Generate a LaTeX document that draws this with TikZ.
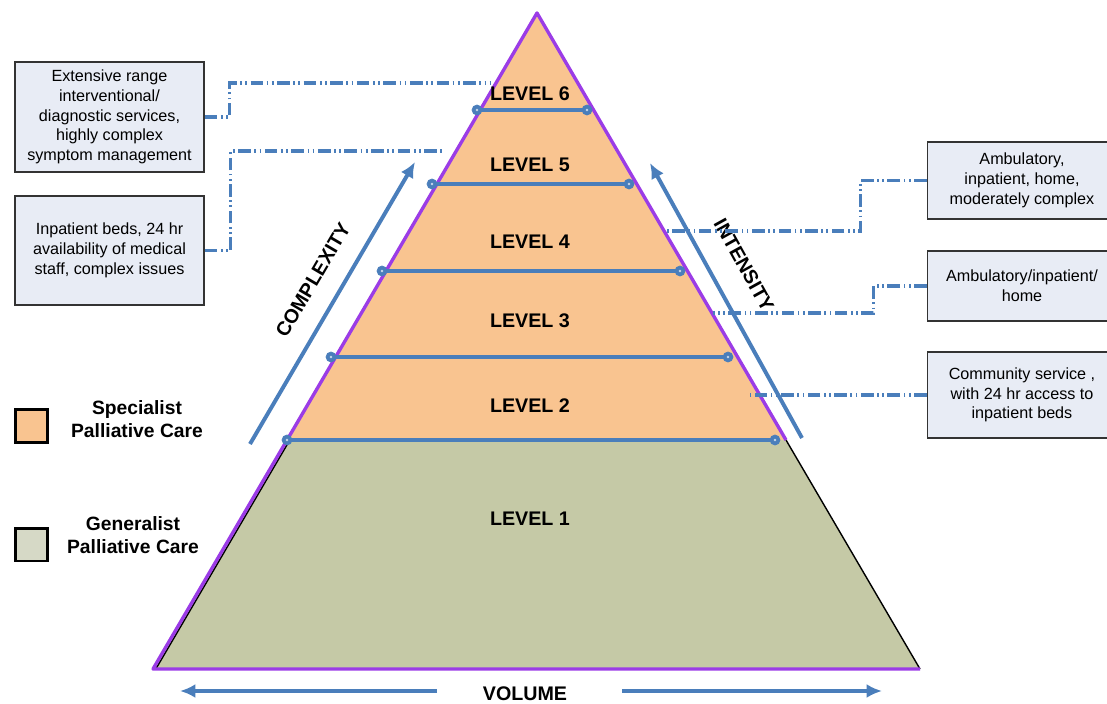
\documentclass[tikz,border=0pt]{standalone}
\usepackage{fontspec}
\setmainfont{Liberation Sans}
\usetikzlibrary{arrows.meta}

\definecolor{spezial}{RGB}{249,196,144}
\definecolor{general}{RGB}{197,201,166}
\definecolor{generalhell}{RGB}{214,217,198}
\definecolor{blau}{RGB}{74,126,187}
\definecolor{lila}{RGB}{155,60,230}
\definecolor{kastengrau}{RGB}{232,236,245}

\begin{document}
\begin{tikzpicture}[>={Latex[length=11pt,width=10pt]},x=0.025cm,y=-0.025cm,
	kasten/.style={draw=black!80,line width=1.1pt,fill=kastengrau,align=center,
		minimum width=4.725cm,inner sep=2pt,font=\fontsize{11.5}{14}\selectfont},
	verbinder/.style={draw=blau,line width=2.4pt,
		dash pattern=on 9pt off 2.5pt on 1.2pt off 2.5pt on 1.2pt off 2.5pt},
	ebene/.style={font=\fontsize{14}{16}\selectfont\bfseries},
	legende/.style={align=center,font=\fontsize{13.7}{16.3}\selectfont\bfseries},
	feld/.style={draw=black,line width=2pt,minimum width=0.8cm,minimum height=0.82cm,inner sep=0pt},
	pfeil/.style={->,draw=blau,line width=2.8pt}]

\useasboundingbox (0,0) rectangle (1107,704);

\def\teiler#1#2#3{
	\draw[blau,line width=2.4pt] (#1,#3) -- (#2,#3);
	\foreach \p in {#1,#2}{
		\filldraw[blau] (\p,#3) circle[radius=3.6pt];
		\fill[blau!30!white] (\p,#3) circle[radius=1pt];
	}
}

% pyramid
\coordinate (spitze) at (537,13);
\coordinate (links) at (153,669);
\coordinate (rechts) at (920,669);
\coordinate (l2) at (287,440);
\coordinate (r2) at (786,440);

\fill[general] (l2) -- (r2) -- (rechts) -- (links) -- cycle;
\draw[black,line width=1pt] (r2) -- (rechts);
\draw[black,line width=1pt] ([xshift=2pt]l2) -- ([xshift=2pt]links);
\fill[spezial] (spitze) -- (r2) -- (l2) -- cycle;
\draw[lila,line width=2.4pt,line join=round] (r2) -- (spitze) -- (links) -- (rechts);

\teiler{477}{587}{110}
\teiler{432}{629}{184}
\teiler{382}{680}{271}
\teiler{331}{728}{357}
\teiler{287}{775}{440}

\foreach \n/\y in {6/94,5/165,4/242,3/321,2/406,1/519}
	\node[ebene] (e\n) at (530,\y) {LEVEL \n};

% arrows
\coordinate (k0) at (250,444);
\coordinate (k1) at (415,162);
\coordinate (i0) at (802,438);
\coordinate (i1) at (650,163);
\coordinate (v0) at (437,691);
\coordinate (v1) at (180,691);
\coordinate (v2) at (622,691);
\coordinate (v3) at (882,691);
\draw[pfeil] (k0) -- (k1);
\draw[pfeil] (i0) -- (i1);
\draw[pfeil] (v0) -- (v1);
\draw[pfeil] (v2) -- (v3);
\node[ebene,rotate=59.6] (komplex) at (313,280) {COMPLEXITY};
\node[ebene,rotate=-61] (intens) at (744,265) {INTENSITY};
\node[ebene] (volumen) at (525,694) {VOLUME};

% boxes
\node[kasten,minimum height=2.75cm] (umfang) at (109.5,117)
	{Extensive range\\interventional/\\diagnostic services,\\highly complex\\symptom management};
\node[kasten,minimum height=2.725cm] (betten) at (109.5,250.5)
	{Inpatient beds, 24 hr\\availability of medical\\staff, complex issues};
\node[kasten,minimum height=1.925cm] (ambulant) at (1022,180.5)
	{Ambulatory,\\inpatient, home,\\moderately complex};
\node[kasten,minimum height=1.75cm] (zuhause) at (1022,286)
	{Ambulatory/inpatient/\\home};
\node[kasten,minimum height=2.15cm] (gemeinde) at (1022,395)
	{Community service ,\\with 24 hr access to\\inpatient beds};

\coordinate (z6) at (490,83);
\coordinate (z5) at (445,151);
\coordinate (z4) at (667,231);
\coordinate (z3) at (713,313);
\coordinate (z2) at (750,395);
\draw[verbinder] (umfang.east) -- ++(25,0) |- (z6);
\draw[verbinder] (betten.east) -- ++(26,0) |- (z5);
\draw[verbinder] (ambulant.west) -- ++(-66,0) |- (z4);
\draw[verbinder] (zuhause.west) -- ++(-53,0) |- (z3);
\draw[verbinder] (gemeinde.west) -- (z2);

% legend
\node[feld,fill=spezial] (fspez) at (31.5,426) {};
\node[legende] (tspez) at (137,419) {Specialist\\Palliative Care};
\node[feld,fill=generalhell] (fgen) at (31.5,544.5) {};
\node[legende] (tgen) at (133,535) {Generalist\\Palliative Care};

\end{tikzpicture}
\end{document}
